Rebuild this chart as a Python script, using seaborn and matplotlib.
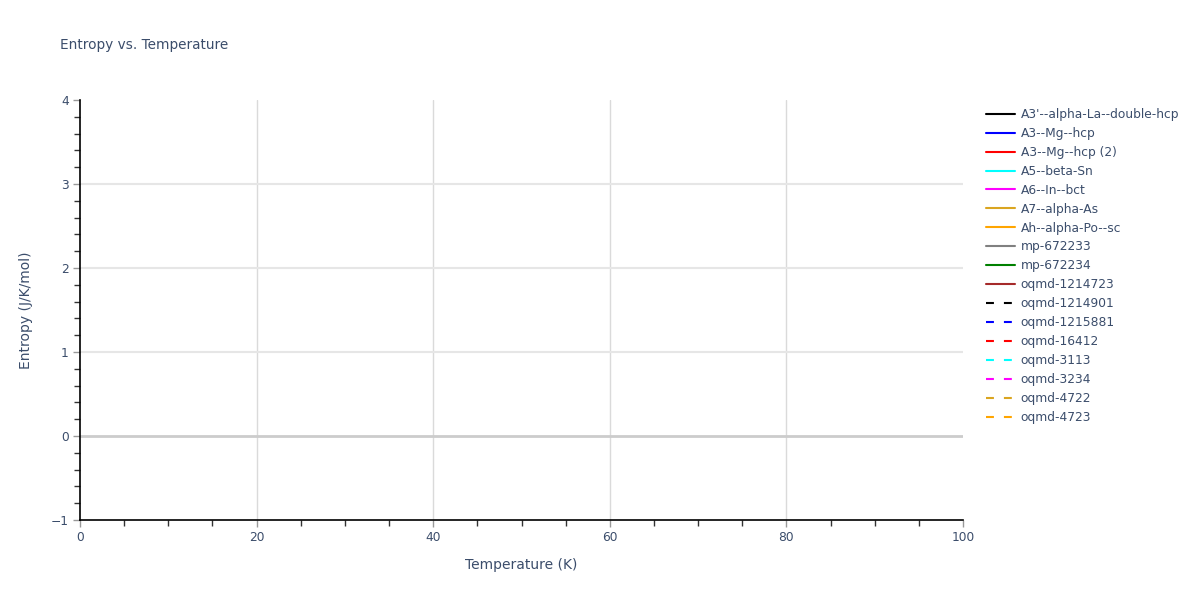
import matplotlib
matplotlib.use("Agg")
import matplotlib.pyplot as plt
from matplotlib.ticker import MultipleLocator
import seaborn as sns

# series shown in the legend (the plot itself shows no data points)
series_names = [
    "A3'--alpha-La--double-hcp", "A3--Mg--hcp", "A3--Mg--hcp (2)", "A5--beta-Sn",
    "A6--In--bct", "A7--alpha-As", "Ah--alpha-Po--sc", "mp-672233", "mp-672234",
    "oqmd-1214723", "oqmd-1214901", "oqmd-1215881", "oqmd-16412", "oqmd-3113",
    "oqmd-3234", "oqmd-4722", "oqmd-4723",
]
temperature = []
entropy = [[] for _ in series_names]

x_range = (0, 100)
y_range = (-1, 4)

colors = ["black", "blue", "red", "cyan", "magenta", "goldenrod", "orange", "gray", "green",
          "brown", "black", "blue", "red", "cyan", "magenta", "goldenrod", "orange"]
dashed = [False] * 10 + [True] * 7

text_color = "#3b4d6b"

sns.set_style("white")
plt.rcParams["font.family"] = ["DejaVu Sans"]

fig = plt.figure(figsize=(12, 6), dpi=100)
ax = fig.add_axes([80 / 1200, 80 / 600, 883 / 1200, 420 / 600])

for name, ys, c, d in zip(series_names, entropy, colors, dashed):
    ax.plot(temperature, ys, color=c, lw=1.5, label=name,
            linestyle=(0, (3.8, 4.8)) if d else "-")

ax.set_xlim(*x_range)
ax.set_ylim(*y_range)
ax.xaxis.set_major_locator(MultipleLocator(20))
ax.xaxis.set_minor_locator(MultipleLocator(5))
ax.yaxis.set_major_locator(MultipleLocator(1))
ax.yaxis.set_minor_locator(MultipleLocator(0.2))

ax.grid(False)
for v in range(20, 100, 20):
    ax.axvline(v, color="#dadada", lw=1, zorder=0)
for v in range(1, 4):
    ax.axhline(v, color="#e6e6e6", lw=1.5, zorder=0)
ax.axhline(0, color="#cccccc", lw=2, zorder=0)

for s in ["top", "right"]:
    ax.spines[s].set_visible(False)
for s in ["left", "bottom"]:
    ax.spines[s].set_color("black")
    ax.spines[s].set_linewidth(1.2)

ax.tick_params(which="major", direction="out", length=5, width=1, color="#999999",
               labelsize=8.8, labelcolor=text_color, pad=3, bottom=True, left=True)
ax.tick_params(which="minor", direction="out", length=4, width=1, color="#333333",
               bottom=True, left=True)

ax.set_xlabel("Temperature (K)", fontsize=10, color=text_color, labelpad=10)
ax.set_ylabel("Entropy (J/K/mol)", fontsize=10, color=text_color, labelpad=13)

fig.text(60 / 1200, 1 - 45 / 600, "Entropy vs. Temperature", fontsize=9.8,
         color=text_color, va="center", ha="left")

fig.legend(loc="upper left", bbox_to_anchor=(986 / 1200, 1 - 108 / 600), frameon=False,
           fontsize=8.8, handlelength=2.4, handletextpad=0.45, labelspacing=0.485,
           labelcolor=text_color, borderaxespad=0, borderpad=0)

fig.savefig("out.png", dpi=100, facecolor="white")
